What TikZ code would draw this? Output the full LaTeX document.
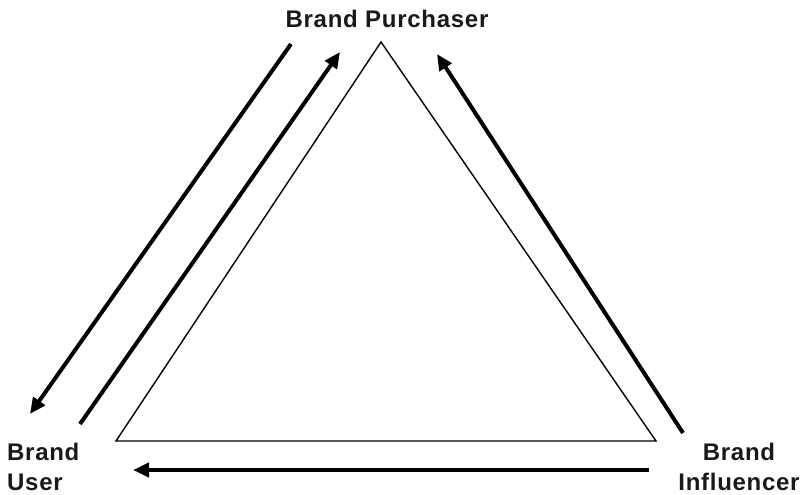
\documentclass[tikz,border=0pt]{standalone}
\usepackage{fontspec}
\setmainfont{Liberation Sans}
\newfontfamily\lblfont[LetterSpace=3]{Liberation Sans Bold}
\usetikzlibrary{arrows.meta}
\begin{document}
\begin{tikzpicture}[x=1pt,y=-1pt,
  lbl/.style={inner sep=0pt,font=\lblfont\fontsize{24}{28}\selectfont,text=black!90},
  tri/.style={line width=1.4pt,line join=miter},
  flow/.style={line width=4pt,-{Triangle[length=16pt,width=14pt]}}]
\useasboundingbox (0,0) rectangle (803,495);
% triangle
\coordinate (A) at (381,42);
\coordinate (BL) at (116,441);
\coordinate (BR) at (656,441);
\draw[tri] (A) -- (BL) -- (BR) -- cycle;
% labels
\node[lbl,anchor=base] (purch) at (387,28) {Brand Purchaser};
\node[lbl,anchor=base west] (user1) at (7,460) {Brand};
\node[lbl,anchor=base west] (user2) at (7,490) {User};
\node[lbl,anchor=base] (infl1) at (739,460) {Brand};
\node[lbl,anchor=base] (infl2) at (739,490) {Influencer};
% arrow end points
\coordinate (p1s) at (291,44);
\coordinate (p1e) at (30,414);
\coordinate (p2s) at (80,424);
\coordinate (p2e) at (340,52);
\coordinate (p3s) at (683,433);
\coordinate (p3e) at (437,54);
\coordinate (p4s) at (649,470);
\coordinate (p4e) at (133,470);
\draw[flow] (p1s) -- (p1e);
\draw[flow] (p2s) -- (p2e);
\draw[flow] (p3s) -- (p3e);
\draw[flow] (p4s) -- (p4e);
\end{tikzpicture}
\end{document}
